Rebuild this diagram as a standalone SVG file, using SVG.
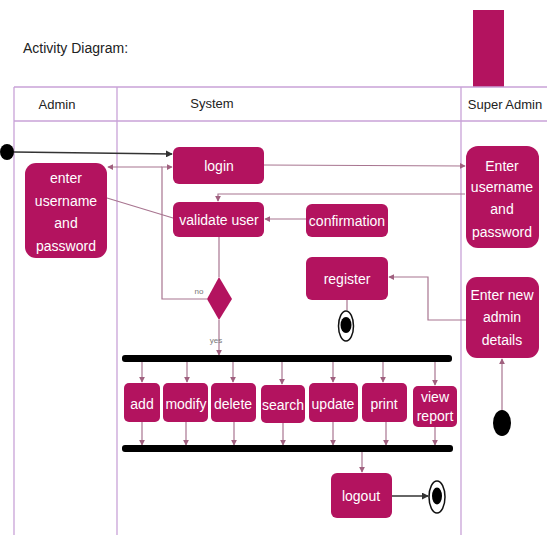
<svg xmlns="http://www.w3.org/2000/svg" width="547" height="535" viewBox="0 0 547 535">
<defs>
<style>
.lane{stroke:#c9a3d8;stroke-width:1.3;fill:none}
.box{fill:#b3135f}
.t{fill:#fff;font-family:"Liberation Sans","DejaVu Sans",sans-serif;font-size:14px;text-anchor:middle}
.h{fill:#222;font-family:"Liberation Sans","DejaVu Sans",sans-serif;font-size:13px;text-anchor:middle}
.s{fill:#777;font-family:"Liberation Sans",sans-serif;font-size:8px;text-anchor:middle}
.c{stroke:#a87590;stroke-width:1.2;fill:none}
.k{stroke:#333;stroke-width:1.4;fill:none}
</style>
<marker id="a" viewBox="0 0 8 8" refX="7" refY="4" markerWidth="5" markerHeight="5" orient="auto"><path d="M0,0 L8,4 L0,8 Z" fill="#a0607f"/></marker>
<marker id="ak" viewBox="0 0 8 8" refX="7" refY="4" markerWidth="5" markerHeight="5" orient="auto"><path d="M0,0 L8,4 L0,8 Z" fill="#333"/></marker>
</defs>
<rect width="547" height="535" fill="#fff"/>
<text x="23" y="53" font-family="Liberation Sans,sans-serif" font-size="14" fill="#222">Activity Diagram:</text>
<rect x="473" y="10" width="31" height="77" fill="#b3135f"/>
<g id="lanes">
<path class="lane" d="M14,87 H547 M14,121 H547 M14,87 V535 M117,87 V535 M461,87 V535"/>
<text class="h" x="57" y="109">Admin</text>
<text class="h" x="212" y="108">System</text>
<text class="h" x="505" y="109">Super Admin</text>
</g>
<g id="connectors">
<path class="k" d="M14,152 L172,154" marker-end="url(#ak)"/>
<path class="c" d="M264,165 L465,166" marker-end="url(#a)"/>
<path class="c" d="M162,167 L108,167" marker-end="url(#a)"/>
<path class="c" d="M207,299 H162 V167 H172" marker-end="url(#a)"/>
<path class="c" d="M107,198 L173,218"/>
<path class="c" d="M465,194 H218 V201" marker-end="url(#a)"/>
<path class="c" d="M306,219 H265" marker-end="url(#a)"/>
<path class="c" d="M219,237 V277"/>
<path class="c" d="M219,320 V355" marker-end="url(#a)"/>
<path class="c" d="M142,362 V382" marker-end="url(#a)"/>
<path class="c" d="M187,362 V382" marker-end="url(#a)"/>
<path class="c" d="M233,362 V382" marker-end="url(#a)"/>
<path class="c" d="M282,362 V384" marker-end="url(#a)"/>
<path class="c" d="M333,362 V382" marker-end="url(#a)"/>
<path class="c" d="M383,362 V382" marker-end="url(#a)"/>
<path class="c" d="M435,362 V385" marker-end="url(#a)"/>
<path class="c" d="M142,422 V445" marker-end="url(#a)"/>
<path class="c" d="M186,422 V445" marker-end="url(#a)"/>
<path class="c" d="M234,422 V445" marker-end="url(#a)"/>
<path class="c" d="M283,423 V445" marker-end="url(#a)"/>
<path class="c" d="M333,422 V445" marker-end="url(#a)"/>
<path class="c" d="M386,422 V445" marker-end="url(#a)"/>
<path class="c" d="M435,427 V445" marker-end="url(#a)"/>
<path class="c" d="M362,452 V472" marker-end="url(#a)"/>
<path class="k" d="M392,496 H428" marker-end="url(#ak)"/>
<path class="c" d="M502,411 V359" marker-end="url(#a)"/>
<path class="c" d="M466,320 H428 V277 H389" marker-end="url(#a)"/>
<path class="c" d="M347,300 V310"/>
</g>
<g id="start1"><ellipse cx="7" cy="152" rx="7" ry="8" fill="#000"/></g>
<g id="login"><rect class="box" x="173" y="147" width="91" height="37" rx="6"/><text class="t" x="219" y="171">login</text></g>
<g id="enterAdmin"><rect class="box" x="25" y="163" width="82" height="95" rx="11"/>
<text class="t" x="66" y="183">enter</text><text class="t" x="66" y="206">username</text><text class="t" x="66" y="228">and</text><text class="t" x="66" y="251">password</text></g>
<g id="validate"><rect class="box" x="173" y="202" width="91" height="35" rx="6"/><text class="t" x="219" y="225">validate user</text></g>
<g id="decision"><path class="box" d="M219,277 L232,299 L219,320 L207,299 Z"/>
<text class="s" x="199" y="294">no</text><text class="s" x="216" y="343">yes</text></g>
<g id="confirmation"><rect class="box" x="306" y="204" width="82" height="33" rx="6"/><text class="t" x="347" y="226">confirmation</text></g>
<g id="register"><rect class="box" x="306" y="257" width="82" height="43" rx="6"/><text class="t" x="347" y="284">register</text></g>
<g id="end1"><ellipse cx="346" cy="326" rx="7.5" ry="15" fill="#fff" stroke="#111" stroke-width="1.5"/><ellipse cx="346" cy="325" rx="5.5" ry="8" fill="#000"/></g>
<g id="enterSuper"><rect class="box" x="466" y="146" width="73" height="102" rx="12"/>
<text class="t" x="502" y="171">Enter</text><text class="t" x="502" y="192">username</text><text class="t" x="502" y="214">and</text><text class="t" x="502" y="237">password</text></g>
<g id="enterNew"><rect class="box" x="466" y="277" width="73" height="81" rx="11"/>
<text class="t" x="502" y="300">Enter new</text><text class="t" x="502" y="322">admin</text><text class="t" x="502" y="345">details</text></g>
<g id="start2"><ellipse cx="502" cy="423" rx="9" ry="13" fill="#000"/></g>
<g id="fork"><rect x="122" y="355" width="330" height="7" rx="3" fill="#000"/></g>
<g id="join"><rect x="122" y="445" width="331" height="7" rx="3" fill="#000"/></g>
<g id="add"><rect class="box" x="124" y="383" width="36" height="39" rx="5"/><text class="t" x="142" y="409">add</text></g>
<g id="modify"><rect class="box" x="163" y="383" width="45" height="39" rx="5"/><text class="t" x="186" y="409">modify</text></g>
<g id="delete"><rect class="box" x="211" y="383" width="45" height="39" rx="5"/><text class="t" x="233" y="409">delete</text></g>
<g id="search"><rect class="box" x="261" y="385" width="44" height="38" rx="5"/><text class="t" x="283" y="410">search</text></g>
<g id="update"><rect class="box" x="309" y="383" width="49" height="39" rx="5"/><text class="t" x="333" y="409">update</text></g>
<g id="print"><rect class="box" x="362" y="383" width="45" height="39" rx="5"/><text class="t" x="384" y="409">print</text></g>
<g id="viewreport"><rect class="box" x="413" y="386" width="44" height="41" rx="5"/><text class="t" x="435" y="402">view</text><text class="t" x="435" y="421">report</text></g>
<g id="logout"><rect class="box" x="331" y="473" width="61" height="45" rx="6"/><text class="t" x="361" y="501">logout</text></g>
<g id="end2"><ellipse cx="437" cy="497" rx="8" ry="16" fill="#fff" stroke="#111" stroke-width="1.5"/><ellipse cx="437" cy="496" rx="5" ry="8.5" fill="#000"/></g>
</svg>
